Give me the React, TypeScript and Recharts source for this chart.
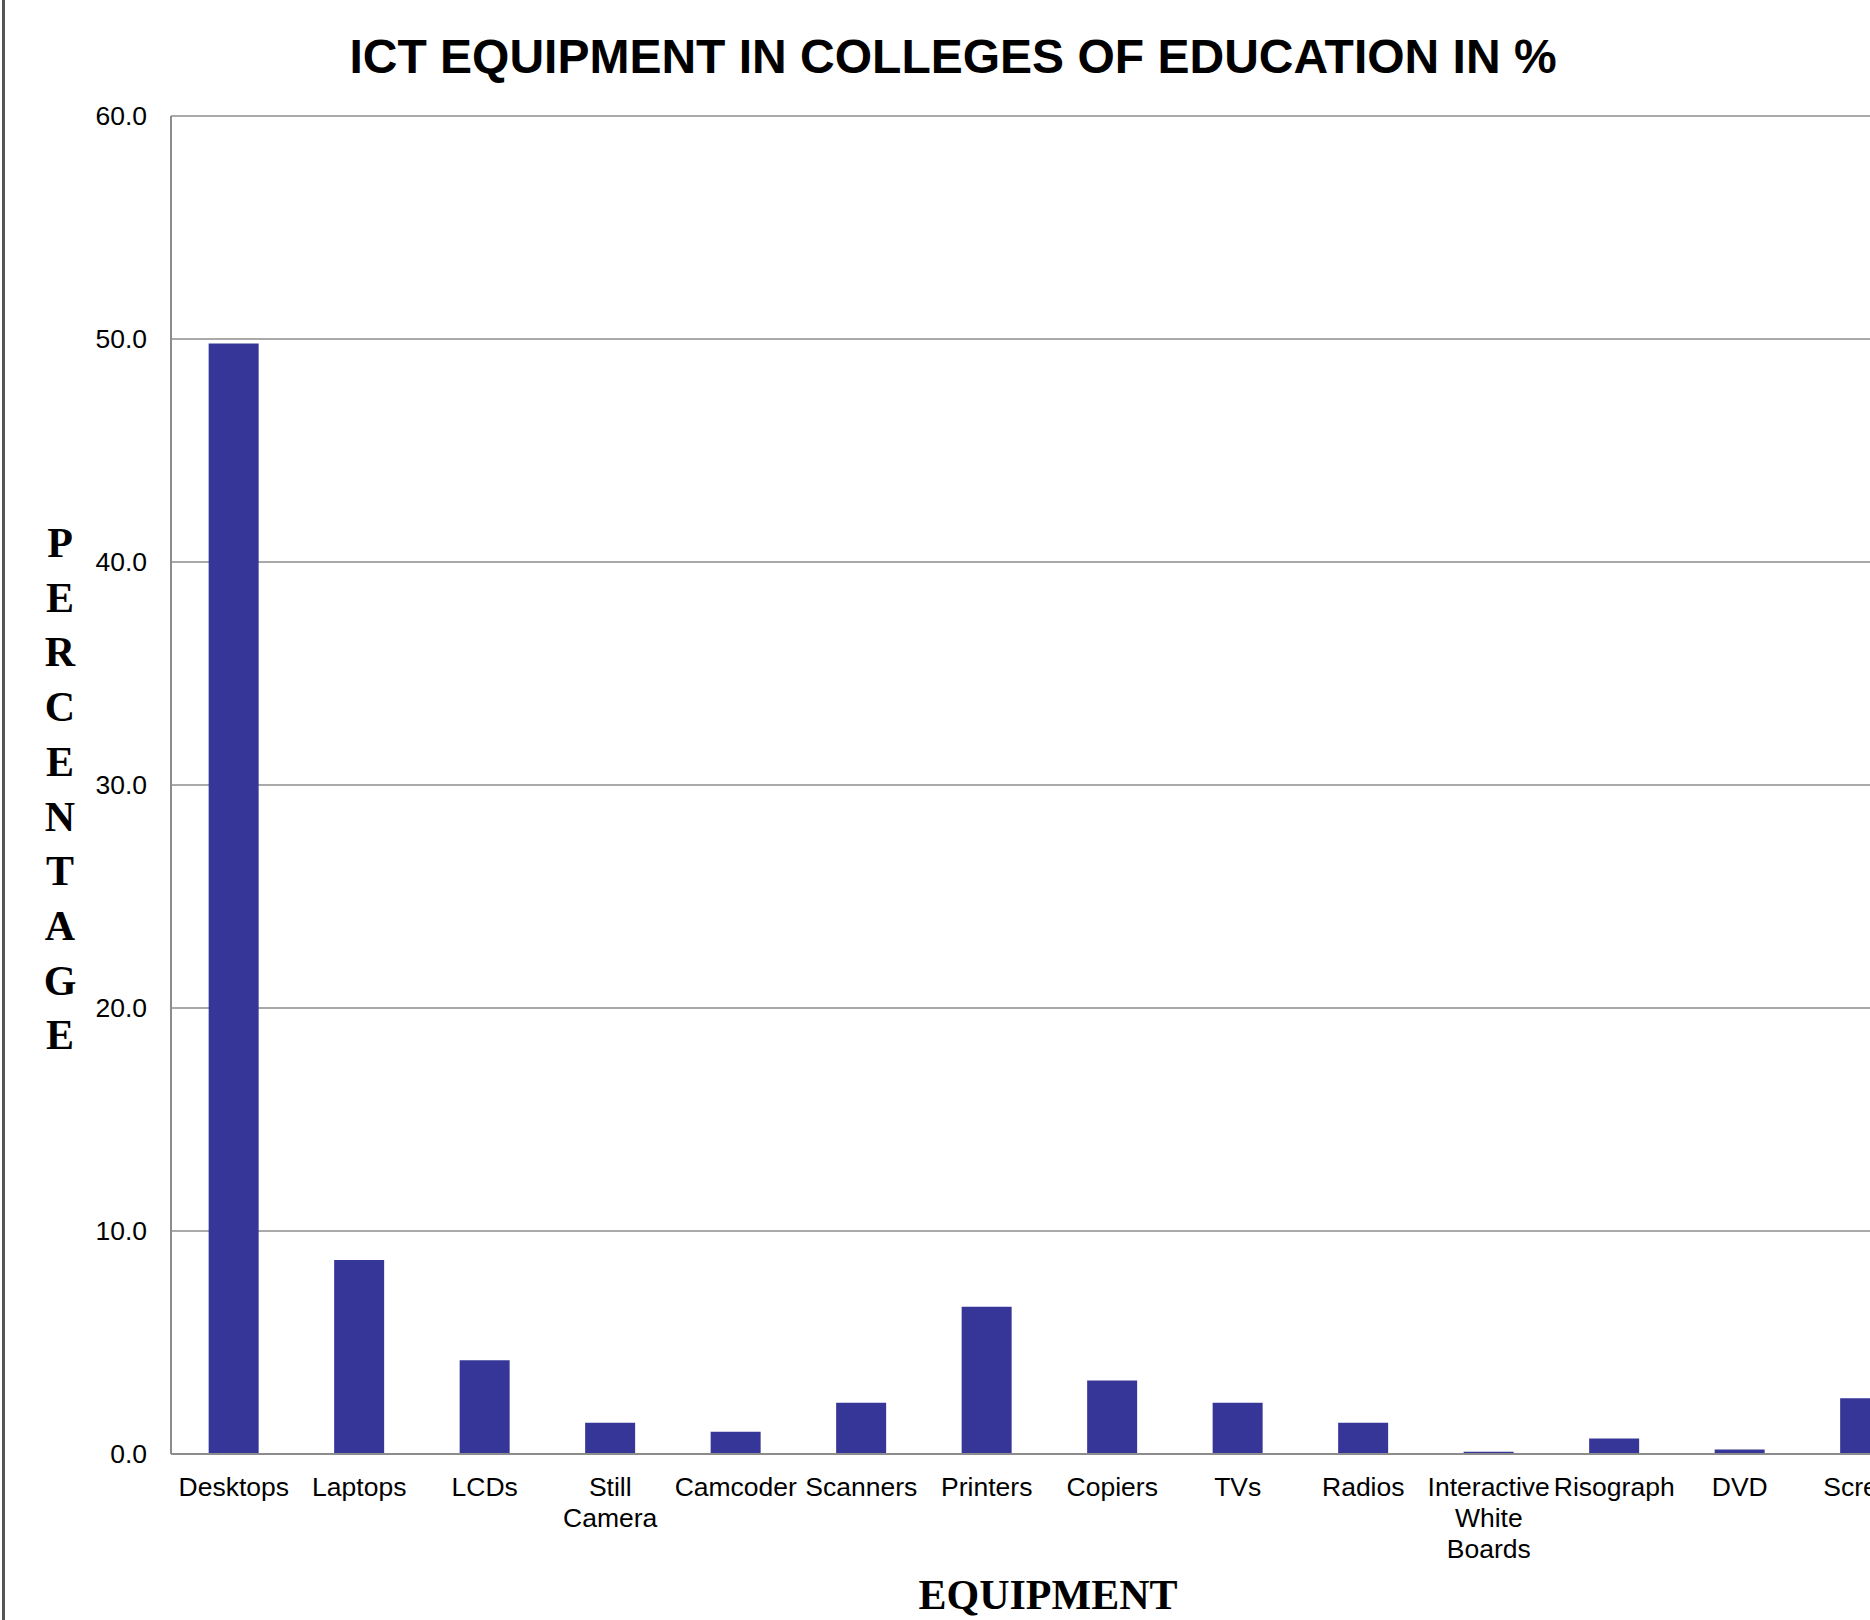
import React from "react";
import { BarChart, Bar, XAxis, YAxis, CartesianGrid } from "recharts";

// equipment categories ("\n" marks a line break in the tick label)
const CATEGORIES = [
  "Desktops",
  "Laptops",
  "LCDs",
  "Still\nCamera",
  "Camcoder",
  "Scanners",
  "Printers",
  "Copiers",
  "TVs",
  "Radios",
  "Interactive\nWhite\nBoards",
  "Risograph",
  "DVD",
  "Screen",
];

// percentage of each equipment type
const PERCENTAGES = [49.8, 8.7, 4.2, 1.4, 1.0, 2.3, 6.6, 3.3, 2.3, 1.4, 0.1, 0.7, 0.2, 2.5];

const Y_TICKS = [0, 10, 20, 30, 40, 50, 60];

const TITLE = "ICT EQUIPMENT IN COLLEGES OF EDUCATION IN %";
const Y_TITLE = "PERCENTAGE";
const X_TITLE = "EQUIPMENT";

const data = CATEGORIES.map((name, i) => ({ name, value: PERCENTAGES[i] }));

const SANS = "'Liberation Sans', Arial, Helvetica, sans-serif";
const SERIF = "'Liberation Serif', 'Times New Roman', serif";

const CategoryTick = (props: any) => {
  const { x, y, payload } = props;
  const lines = String(payload.value).split("\n");
  return (
    <text x={x} y={y} textAnchor="middle" fill="#000" fontSize={26.5} fontFamily={SANS}>
      {lines.map((line, i) => (
        <tspan key={i} x={x} dy={i === 0 ? 41.5 : 31}>
          {line}
        </tspan>
      ))}
    </text>
  );
};

export default function App() {
  return (
    <div
      style={{
        position: "fixed",
        left: 0,
        top: 0,
        width: 1870,
        height: 1620,
        overflow: "hidden",
        background: "#fff",
      }}
    >
      {/* page border on the left */}
      <div style={{ position: "absolute", left: 2, top: 0, width: 3, height: 1620, background: "#555" }} />

      {/* the plot runs past the right edge of the page, as in the original */}
      <div style={{ position: "absolute", left: 0, top: 0 }}>
        <BarChart
          width={1932}
          height={1620}
          data={data}
          margin={{ top: 116, right: 4, bottom: 0, left: 1 }}
          barCategoryGap="30%"
        >
          <CartesianGrid horizontal={true} vertical={false} stroke="#8c8c8c" strokeWidth={1.6} />
          <XAxis
            dataKey="name"
            interval={0}
            height={166}
            tickLine={false}
            tickSize={0}
            tickMargin={0}
            axisLine={{ stroke: "#8c8c8c", strokeWidth: 2 }}
            tick={<CategoryTick />}
          />
          <YAxis
            type="number"
            domain={[0, 60]}
            ticks={Y_TICKS}
            width={170}
            tickLine={false}
            tickSize={20}
            tickMargin={4}
            axisLine={{ stroke: "#8c8c8c", strokeWidth: 2 }}
            tickFormatter={(v: number) => v.toFixed(1)}
            tick={{ fill: "#000", fontSize: 26.5, fontFamily: SANS }}
          />
          <Bar dataKey="value" fill="#363698" isAnimationActive={false} />
        </BarChart>
      </div>

      <svg
        width={1870}
        height={1620}
        style={{ position: "absolute", left: 0, top: 0, pointerEvents: "none" }}
      >
        <text x={953} y={73} textAnchor="middle" fontFamily={SANS} fontWeight="bold" fontSize={48} fill="#000">
          {TITLE}
        </text>
        {Y_TITLE.split("").map((ch, i) => (
          <text
            key={i}
            x={60}
            y={557 + i * 54.7}
            textAnchor="middle"
            fontFamily={SERIF}
            fontWeight="bold"
            fontSize={42}
            fill="#000"
          >
            {ch}
          </text>
        ))}
        <text x={1048} y={1609} textAnchor="middle" fontFamily={SERIF} fontWeight="bold" fontSize={42} fill="#000">
          {X_TITLE}
        </text>
      </svg>
    </div>
  );
}
